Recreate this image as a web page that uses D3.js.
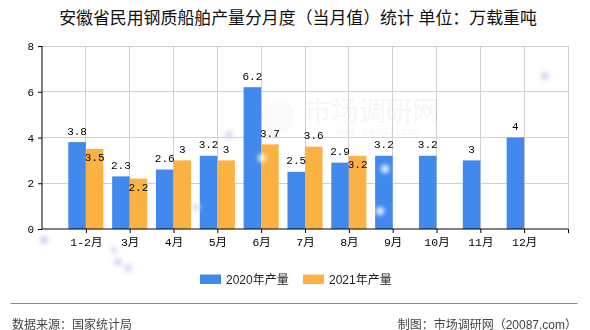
<!DOCTYPE html>
<html><head><meta charset="utf-8">
<script src="https://cdn.jsdelivr.net/npm/d3@7/dist/d3.min.js"></script>
<style>
html,body{margin:0;padding:0;background:#fff;}
svg{display:block;}
</style></head>
<body>
<svg id="c" width="590" height="330"></svg>
<script>
const categories = ["1-2月","3月","4月","5月","6月","7月","8月","9月","10月","11月","12月"];
const series2020 = [3.8,2.3,2.6,3.2,6.2,2.5,2.9,3.2,3.2,3,4];
const series2021 = [3.5,2.2,3,3,3.7,3.6,3.2];
const seriesNames = ["2020年产量","2021年产量"];
const yTicks = [0,2,4,6,8];
const title = "安徽省民用钢质船舶产量分月度（当月值）统计 单位：万载重吨";
const sourceText = "数据来源：国家统计局";
const creditText = "制图：市场调研网（20087.com）";

const colors = ["#4289ee","#fbb243"];
const monoFont = "'Liberation Mono','DejaVu Sans Mono','Noto Sans CJK SC',monospace";
const sansFont = "'Liberation Sans','Noto Sans CJK SC',sans-serif";

const svg = d3.select("#c");
const L = 42, R = 568, T = 46, B = 229;

const x = d3.scaleLinear().domain([0, categories.length + 1]).range([L, R]);
const y = d3.scaleLinear().domain([0, 8]).range([B, T]);
const unit = x(1) - x(0);
const bw = unit * 0.4;

const defs = svg.append("defs");
defs.append("filter").attr("id","blur").append("feGaussianBlur").attr("stdDeviation",2.2);
const dots = [[44,240,"#c9c9ee"],[118,262,"#d0d0f0"],[128,268,"#d6d6f2"],[196,207,"#dcdcf4"],[229,135,"#d4d4f0"],[545,76,"#cfcff0"],[385,169,"#ffffff"],[380,211,"#ffffff"],[262,158,"#ffffff"],[114,250,"#e2e2f6"]];

// title
svg.append("text").attr("x", 298).attr("y", 24).attr("text-anchor","middle")
  .attr("font-family", sansFont).attr("font-size", 16.9).attr("fill","#111")
  .text(title);

// grid
const g = svg.append("g");
g.selectAll("line.h").data(yTicks.filter(d => d > 0)).join("line")
  .attr("x1", L).attr("x2", R).attr("y1", d => y(d)).attr("y2", d => y(d))
  .attr("stroke","#d0d0d0").attr("stroke-width",1).attr("shape-rendering","crispEdges");
g.selectAll("line.v").data(d3.range(1, categories.length + 2)).join("line")
  .attr("x1", d => x(d)).attr("x2", d => x(d)).attr("y1", T).attr("y2", B)
  .attr("stroke","#d0d0d0").attr("stroke-width",1).attr("shape-rendering","crispEdges");

// watermark
g.append("text").attr("x", 372).attr("y", 121).attr("text-anchor","middle")
  .attr("font-family", sansFont).attr("font-size", 27).attr("fill","#000").attr("opacity",0.03)
  .text("市场调研网");
g.append("text").attr("x", 378).attr("y", 135).attr("text-anchor","middle")
  .attr("font-family", monoFont).attr("font-size", 11).attr("fill","#000").attr("opacity",0.03)
  .text("www.20087.com");
g.append("circle").attr("cx", 278).attr("cy", 117).attr("r", 17).attr("fill","#000").attr("opacity",0.02);

// bars
const data = [series2020, series2021];
data.forEach((vals, si) => {
  svg.append("g").selectAll("rect").data(vals).join("rect")
    .attr("x", (d,i) => x(i+1) - (si === 0 ? bw : 0))
    .attr("y", d => y(d))
    .attr("width", bw)
    .attr("height", d => y(0) - y(d))
    .attr("fill", colors[si]);
});

// dots
svg.append("g").attr("filter","url(#blur)").selectAll("circle").data(dots).join("circle")
  .attr("cx", d => d[0]).attr("cy", d => d[1]).attr("r", 4).attr("fill", d => d[2]).attr("opacity",0.9);

// axes
const yAxis = d3.axisLeft(y).tickValues(yTicks).tickSize(4).tickPadding(4).tickFormat(d3.format("d"));
const ya = svg.append("g").attr("transform",`translate(${L},0)`).call(yAxis);
ya.select(".domain").attr("stroke","#000").attr("d", `M0,${T}V${B}`);
ya.selectAll(".tick line").attr("stroke","#000");
ya.selectAll(".tick text").attr("font-family", monoFont).attr("font-size", 11).attr("fill","#000");

const xAxis = d3.axisBottom(x).tickValues(d3.range(1, categories.length + 2)).tickSize(4).tickPadding(5)
  .tickFormat(d => categories[d-1] || "");
const xa = svg.append("g").attr("transform",`translate(0,${B})`).call(xAxis);
xa.select(".domain").attr("stroke","#000").attr("d", `M${L},0H${R}`);
xa.selectAll(".tick line").attr("stroke","#000");
xa.selectAll(".tick text").attr("font-family", monoFont).attr("font-size", 11.5).attr("fill","#000");

// labels with overlap avoidance
const lab = svg.append("g").attr("font-family", monoFont).attr("font-size", 11).attr("fill","#000").attr("text-anchor","middle");
const boxes = [];
const pad = 1;
function addLabel(cx, v, topY) {
  const t = lab.append("text").attr("x", cx).attr("y", topY - 7.5).text(String(v));
  const w = t.node().getComputedTextLength();
  let box = {x0: cx - w/2 - pad, x1: cx + w/2 + pad, y0: topY - 7.5 - 8, y1: topY - 7.5};
  const hit = boxes.some(b => !(box.x1 <= b.x0 || box.x0 >= b.x1 || box.y1 <= b.y0 || box.y0 >= b.y1));
  if (hit) {
    t.attr("y", topY + 12.5);
    box = {x0: box.x0, x1: box.x1, y0: topY + 4.5, y1: topY + 12.5};
  }
  boxes.push(box);
}
series2020.forEach((v,i) => addLabel(x(i+1) - bw/2, v, y(v)));
series2021.forEach((v,i) => addLabel(x(i+1) + bw/2, v, y(v)));

// legend
const lg = svg.append("g");
const legendX = [200, 303];
seriesNames.forEach((n, i) => {
  lg.append("rect").attr("x", legendX[i]).attr("y", 274.5).attr("width", 21).attr("height", 9.5).attr("fill", colors[i]);
  lg.append("text").attr("x", legendX[i] + 26).attr("y", 284).attr("font-family", sansFont).attr("font-size", 12).attr("fill","#222").text(n);
});

// footer
svg.append("line").attr("x1", 10.5).attr("x2", 577.5).attr("y1", 303.5).attr("y2", 303.5).attr("stroke","#888").attr("stroke-width",1);
svg.append("text").attr("x", 12).attr("y", 328.5).attr("font-family", sansFont).attr("font-size", 12).attr("fill","#444").text(sourceText);
svg.append("text").attr("x", 577).attr("y", 328.5).attr("text-anchor","end").attr("font-family", sansFont).attr("font-size", 12).attr("fill","#444").text(creditText);
</script>
</body></html>
